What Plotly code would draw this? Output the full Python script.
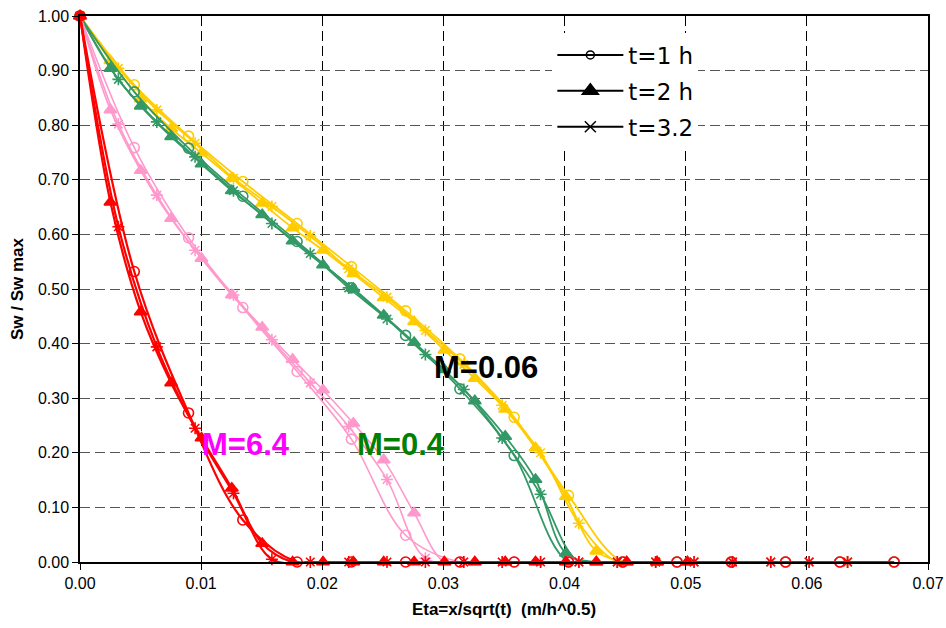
import plotly.graph_objects as go

# Similarity variable eta = x / sqrt(t) at which each profile was sampled
eta_1h = [0, 0.00448, 0.00896, 0.01344, 0.01792, 0.0224, 0.02688, 0.03136,
          0.03584, 0.04032, 0.0448, 0.04928, 0.05376, 0.05824, 0.06272, 0.0672]
eta_2h = [0, 0.00251, 0.00501, 0.00752, 0.01003, 0.01253, 0.01504, 0.01755,
          0.02006, 0.02256, 0.02507, 0.02758, 0.03008, 0.03259, 0.0351, 0.0376,
          0.04011, 0.04262, 0.04513, 0.04763, 0.05014]
eta_32 = [0, 0.00317, 0.00634, 0.0095, 0.01267, 0.01584, 0.01901, 0.02218,
          0.02534, 0.02851, 0.03168, 0.03485, 0.03802, 0.04118, 0.04435, 0.04752,
          0.05069, 0.05386, 0.05702, 0.06019, 0.06336]

# Normalised water saturation Sw / Sw max, one set per mobility ratio
red_1h = [1, 0.532, 0.273, 0.077, 0, 0, 0, 0, 0, 0, 0, 0, 0, 0, 0, 0]
red_2h = [1, 0.659, 0.458, 0.328, 0.227, 0.135, 0.034, 0, 0, 0, 0, 0, 0, 0,
          0, 0, 0, 0, 0, 0, 0]
red_32 = [1, 0.614, 0.394, 0.245, 0.126, 0.005, 0, 0, 0, 0, 0, 0, 0, 0,
          0, 0, 0, 0, 0, 0, 0]

pink_1h = [1, 0.759, 0.594, 0.466, 0.349, 0.225, 0.049, 0, 0, 0, 0, 0, 0, 0, 0, 0]
pink_2h = [1, 0.828, 0.717, 0.629, 0.556, 0.489, 0.430, 0.371, 0.315, 0.254,
           0.187, 0.090, 0, 0, 0, 0, 0, 0, 0, 0, 0]
pink_32 = [1, 0.802, 0.672, 0.571, 0.489, 0.407, 0.328, 0.248, 0.151, 0.007,
           0, 0, 0, 0, 0, 0, 0, 0, 0, 0, 0]

green_1h = [1, 0.861, 0.758, 0.670, 0.587, 0.502, 0.415, 0.317, 0.195, 0,
            0, 0, 0, 0, 0, 0]
green_2h = [1, 0.904, 0.835, 0.779, 0.729, 0.680, 0.636, 0.588, 0.544, 0.501,
            0.452, 0.402, 0.352, 0.295, 0.230, 0.151, 0.016, 0, 0, 0, 0]
green_32 = [1, 0.884, 0.806, 0.742, 0.680, 0.620, 0.565, 0.502, 0.445, 0.380,
            0.316, 0.227, 0.124, 0, 0, 0, 0, 0, 0, 0, 0]

yellow_1h = [1, 0.874, 0.780, 0.697, 0.620, 0.541, 0.460, 0.372, 0.265, 0.122,
             0, 0, 0, 0, 0, 0]
yellow_2h = [1, 0.918, 0.848, 0.794, 0.749, 0.703, 0.657, 0.612, 0.571, 0.528,
             0.484, 0.440, 0.388, 0.336, 0.280, 0.209, 0.120, 0.020, 0, 0, 0]
yellow_32 = [1, 0.904, 0.828, 0.767, 0.703, 0.651, 0.597, 0.537, 0.485, 0.424,
             0.362, 0.287, 0.200, 0.071, 0, 0, 0, 0, 0, 0, 0]

legend_labels = ["t=1 h", "t=2 h", "t=3.2"]
curve_labels = ["M=6.4", "M=0.4", "M=0.06"]
x_ticks = [0, 0.01, 0.02, 0.03, 0.04, 0.05, 0.06, 0.07]
y_ticks = [0, 0.1, 0.2, 0.3, 0.4, 0.5, 0.6, 0.7, 0.8, 0.9, 1.0]

groups = [
    ("#FFCC00", 1.8, yellow_1h, yellow_2h, yellow_32),
    ("#339966", 1.8, green_1h, green_2h, green_32),
    ("#FF99CC", 1.6, pink_1h, pink_2h, pink_32),
    ("#FF0000", 2.2, red_1h, red_2h, red_32),
]

fig = go.Figure()

for color, lw, s1, s2, s3 in groups:
    for xs, ys, sym, msize in [
        (eta_1h, s1, "circle-open", 10),
        (eta_2h, s2, "triangle-up", 11),
        (eta_32, s3, "asterisk-open", 10),
    ]:
        fig.add_trace(go.Scatter(
            x=xs, y=ys, mode="lines+markers",
            line=dict(color=color, width=lw, shape="spline", smoothing=1.0),
            marker=dict(symbol=sym, size=msize, color=color,
                        line=dict(color=color, width=1.6)),
            showlegend=False, hoverinfo="skip", cliponaxis=False,
        ))

# Black legend keys for the three sampling times
for i, (label, sym, msize) in enumerate(zip(legend_labels,
                                            ["circle-open", "triangle-up", "x-thin-open"],
                                            [8, 14, 11])):
    fig.add_trace(go.Scatter(
        x=[None], y=[None], mode="lines+markers", name=label,
        legendgroup="g%d" % i,
        line=dict(color="black", width=2),
        marker=dict(symbol=sym, size=msize, color="black",
                    line=dict(color="black", width=1.5)),
    ))

label_pos = [(0.0099, 0.215, "#FF00FF"), (0.0227, 0.215, "#008000"),
             (0.02905, 0.357, "#000000")]
for text, (ax, ay, col) in zip(curve_labels, label_pos):
    fig.add_annotation(x=ax, y=ay, text="<b>" + text + "</b>",
                       font=dict(size=31, family="Liberation Sans", color=col),
                       xanchor="left", yanchor="middle", showarrow=False)

axis_common = dict(
    showline=True, linecolor="black", linewidth=1.5, mirror=True,
    ticks="outside", ticklen=6, tickcolor="black", tickwidth=1,
    tickformat=".2f", zeroline=False, automargin=False,
    tickfont=dict(family="Liberation Sans", size=16, color="black"),
)

fig.update_xaxes(
    range=[0, 0.07], tickvals=x_ticks,
    showgrid=True, gridcolor="black", gridwidth=1, griddash="10px,5px",
    title=dict(text="<b>Eta=x/sqrt(t) \u00a0(m/h^0.5)</b>",
               font=dict(family="Liberation Sans", size=17, color="black"),
               standoff=12),
    **axis_common,
)
fig.update_yaxes(
    range=[0, 1.0], tickvals=y_ticks,
    showgrid=True, gridcolor="#555555", gridwidth=1, griddash="10px,5px",
    title=dict(text="<b>Sw / Sw max</b>",
               font=dict(family="Liberation Sans", size=17, color="black"),
               standoff=10),
    **axis_common,
)

fig.update_layout(
    width=946, height=628,
    margin=dict(l=80, r=18, t=16, b=66),
    paper_bgcolor="white", plot_bgcolor="white",
    font=dict(family="Liberation Sans", color="black"),
    legend=dict(x=0.557, y=0.968, xanchor="left", yanchor="top",
                bgcolor="white", borderwidth=0, itemwidth=66,
                font=dict(family="DejaVu Sans", size=23, color="black"),
                tracegroupgap=3),
)

fig.write_html("out.html")
